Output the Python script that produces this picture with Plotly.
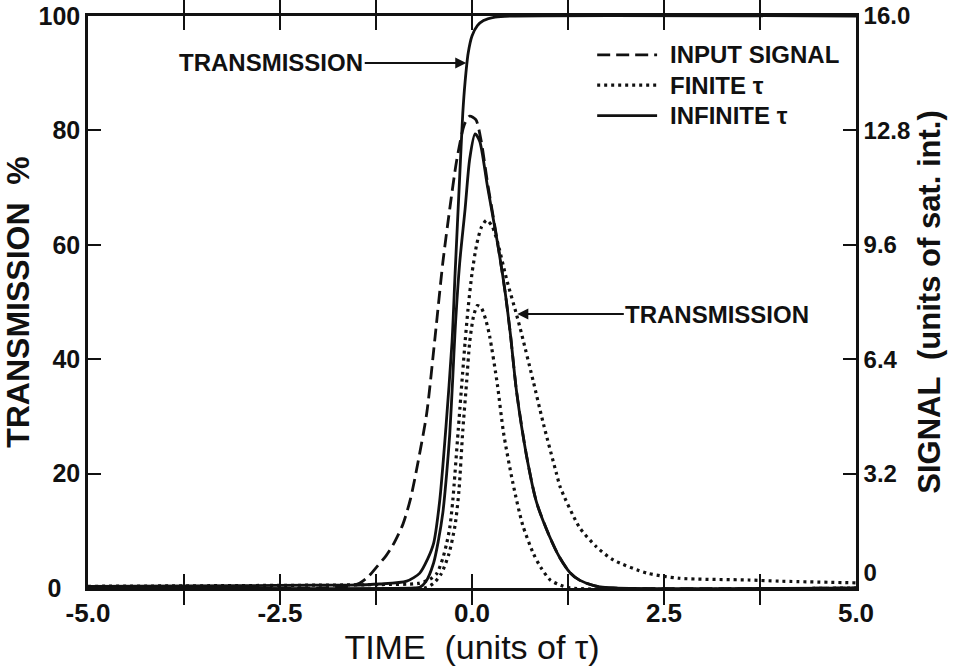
import plotly.graph_objects as go

# Time in units of tau
t_input = [-5.0, -2.0, -1.75, -1.6, -1.46, -1.35, -1.24, -1.12, -1.03, -0.9, -0.8, -0.7,
           -0.59, -0.48, -0.38, -0.29, -0.2, -0.1, -0.03, 0.05, 0.12, 0.2, 0.33, 0.43,
           0.5, 0.58, 0.71, 0.84, 1.01, 1.14, 1.28, 1.4, 1.6, 1.84, 5.0]
# Input pulse, units of saturation intensity
input_signal = [0.0, 0.0, 0.02, 0.05, 0.14, 0.32, 0.59, 0.9, 1.2, 1.78, 2.5, 3.55,
                4.88, 7.04, 9.1, 10.6, 11.95, 12.96, 13.2, 13.1, 12.5, 11.36, 9.7, 8.3,
                7.1, 5.5, 3.7, 2.4, 1.44, 0.86, 0.42, 0.22, 0.06, 0.0, 0.0]

# Transmitted signal, infinite recovery time
t_out_inf = [-5.0, -0.75, -0.68, -0.6, -0.5, -0.44, -0.38, -0.33, -0.29, -0.25, -0.22,
             -0.16, -0.09, -0.03, 0.04, 0.1, 0.2, 0.33, 0.43, 0.5, 0.58, 0.71, 0.84,
             1.01, 1.14, 1.28, 1.4, 1.6, 1.84, 5.0]
out_inf = [0.0, 0.0, 0.02, 0.18, 0.7, 1.3, 2.1, 3.2, 4.3, 5.9, 7.2,
           9.1, 10.6, 12.0, 12.7, 12.5, 11.25, 9.68, 8.3, 7.1, 5.5, 3.7, 2.4,
           1.44, 0.86, 0.42, 0.22, 0.06, 0.0, 0.0]

# Transmitted signal, finite recovery time
t_out_fin = [-5.0, -0.62, -0.5, -0.4, -0.3, -0.22, -0.17, -0.12, -0.07, -0.03, 0.02,
             0.07, 0.12, 0.18, 0.23, 0.33, 0.41, 0.53, 0.66, 0.8, 0.9, 1.02, 1.15, 1.28, 5.0]
out_fin = [0.0, 0.0, 0.13, 0.4, 0.96, 1.76, 2.72, 4.4, 5.76, 6.88, 7.6,
           7.9, 7.84, 7.5, 7.04, 5.7, 4.35, 2.96, 1.76, 0.96, 0.56, 0.22, 0.08, 0.0, 0.0]

# Transmission (%), infinite recovery time
t_tr_inf = [-5.0, -3.0, -2.0, -1.6, -1.2, -0.85, -0.68, -0.58, -0.5, -0.42, -0.34, -0.26,
            -0.22, -0.16, -0.12, -0.09, -0.05, 0.0, 0.07, 0.15, 0.3, 0.5, 5.0]
tr_inf = [0.3, 0.4, 0.5, 0.5, 0.7, 1.2, 2.6, 5.0, 7.8, 15.3, 28.0, 43.0,
          55.0, 72.0, 83.0, 88.5, 93.5, 96.5, 98.3, 99.2, 99.8, 100.0, 100.0]

# Transmission (%), finite recovery time
t_tr_fin = [-5.0, -2.0, -1.2, -0.7, -0.55, -0.46, -0.38, -0.33, -0.29, -0.25, -0.18, -0.09,
            -0.05, 0.0, 0.06, 0.12, 0.19, 0.26, 0.33, 0.45, 0.58, 0.65, 0.8, 0.93, 1.1,
            1.15, 1.4, 1.62, 1.84, 2.28, 2.7, 3.6, 4.0, 5.0]
tr_fin = [0.3, 0.5, 0.6, 0.8, 1.5, 2.5, 5.2, 7.8, 10.5, 15.3, 27.5, 43.0,
          49.0, 55.0, 60.0, 63.0, 64.3, 63.3, 60.6, 54.0, 47.8, 44.2, 36.0, 28.7, 20.0,
          17.6, 10.6, 7.2, 4.9, 2.6, 1.7, 1.4, 1.2, 0.9]

x_tickvals = [-5.0, -3.75, -2.5, -1.25, 0.0, 1.25, 2.5, 3.75, 5.0]
x_ticktext = ["-5.0", "", "-2.5", "", "0.0", "", "2.5", "", "5.0"]
y_tickvals = [0, 20, 40, 60, 80, 100]
y_ticktext = ["0\u2007\u2009", "20", "40", "60", "80", "100"]
y2_tickvals = [0, 3.2, 6.4, 9.6, 12.8, 16.0]
y2_ticktext = ["0<br>\u00a0", "3.2", "6.4", "9.6", "12.8", "16.0"]

legend_labels = ["INPUT SIGNAL", "FINITE \u03c4", "INFINITE \u03c4"]

INK = "#111111"
FONT = "Liberation Sans"
DASH = "13px,6px"
DOT = "3px,4px"
SOLID = "solid"

styles = {
    "input": dict(color=INK, width=2.8, dash=DASH),
    "finite": dict(color=INK, width=3.2, dash=DOT),
    "infinite": dict(color=INK, width=2.8, dash=SOLID),
}

fig = go.Figure()


def curve(x, y, style, name, axis="y"):
    fig.add_trace(go.Scatter(
        x=x, y=y, yaxis=axis, mode="lines", name=name, showlegend=False,
        line=dict(shape="spline", smoothing=0.7, **styles[style])))


curve(t_input, input_signal, "input", legend_labels[0], "y2")
curve(t_out_fin, out_fin, "finite", legend_labels[1], "y2")
curve(t_tr_fin, tr_fin, "finite", legend_labels[1])
curve(t_out_inf, out_inf, "infinite", legend_labels[2], "y2")
curve(t_tr_inf, tr_inf, "infinite", legend_labels[2])

label_font = dict(family=FONT, size=24, color=INK, weight="bold")

# Key in the upper right corner: line sample followed by its label
key_x0, key_x1, key_text_x = 0.663, 0.741, 0.755
key_rows = [0.932, 0.879, 0.826]
for label, style, ky in zip(legend_labels, ["input", "finite", "infinite"], key_rows):
    fig.add_shape(type="line", xref="paper", yref="paper",
                  x0=key_x0, x1=key_x1, y0=ky, y1=ky, line=styles[style])
    fig.add_annotation(xref="paper", yref="paper", x=key_text_x, y=ky,
                       xanchor="left", yanchor="middle", text=label,
                       showarrow=False, font=label_font)

fig.add_annotation(
    x=-0.075, y=91.8, xref="x", yref="y", text="TRANSMISSION",
    showarrow=True, ax=-195, ay=0, arrowhead=2, arrowsize=1.1, arrowwidth=2,
    arrowcolor=INK, standoff=0, font=label_font)
fig.add_annotation(
    x=0.59, y=47.9, xref="x", yref="y", text="TRANSMISSION",
    showarrow=True, ax=200, ay=0, arrowhead=2, arrowsize=1.1, arrowwidth=2,
    arrowcolor=INK, standoff=0, font=label_font)

axis_common = dict(showgrid=False, zeroline=False, showline=True, linecolor=INK,
                   linewidth=2.5, ticks="inside", tickcolor=INK, tickwidth=2.2,
                   automargin=False, ticklabeloverflow="allow")

fig.update_layout(
    width=957, height=667,
    margin=dict(l=88, r=101, t=16, b=79),
    paper_bgcolor="white", plot_bgcolor="white",
    font=dict(family=FONT, color=INK),
    showlegend=False,
    xaxis=dict(range=[-5, 5], tickvals=x_tickvals, ticktext=x_ticktext,
               ticklen=14, mirror="allticks",
               tickfont=dict(family=FONT, size=26, color=INK, weight="bold"),
               title=dict(text="TIME  (units of \u03c4)", standoff=4,
                          font=dict(family=FONT, size=34, color=INK)),
               **axis_common),
    yaxis=dict(range=[0, 100], tickvals=y_tickvals, ticktext=y_ticktext,
               ticklen=13, mirror=True,
               tickfont=dict(family=FONT, size=25, color=INK, weight="bold"),
               title=dict(text="TRANSMISSION  %", standoff=0,
                          font=dict(family=FONT, size=32, color=INK, weight="bold")),
               **axis_common),
    yaxis2=dict(range=[0, 16], tickvals=y2_tickvals, ticktext=y2_ticktext,
                overlaying="y", side="right", ticklen=13,
                tickfont=dict(family=FONT, size=24, color=INK, weight="bold"),
                title=dict(text="SIGNAL  (units of sat. int.)", standoff=10,
                           font=dict(family=FONT, size=31, color=INK, weight="bold")),
                **axis_common),
)

fig.write_html("out.html")
